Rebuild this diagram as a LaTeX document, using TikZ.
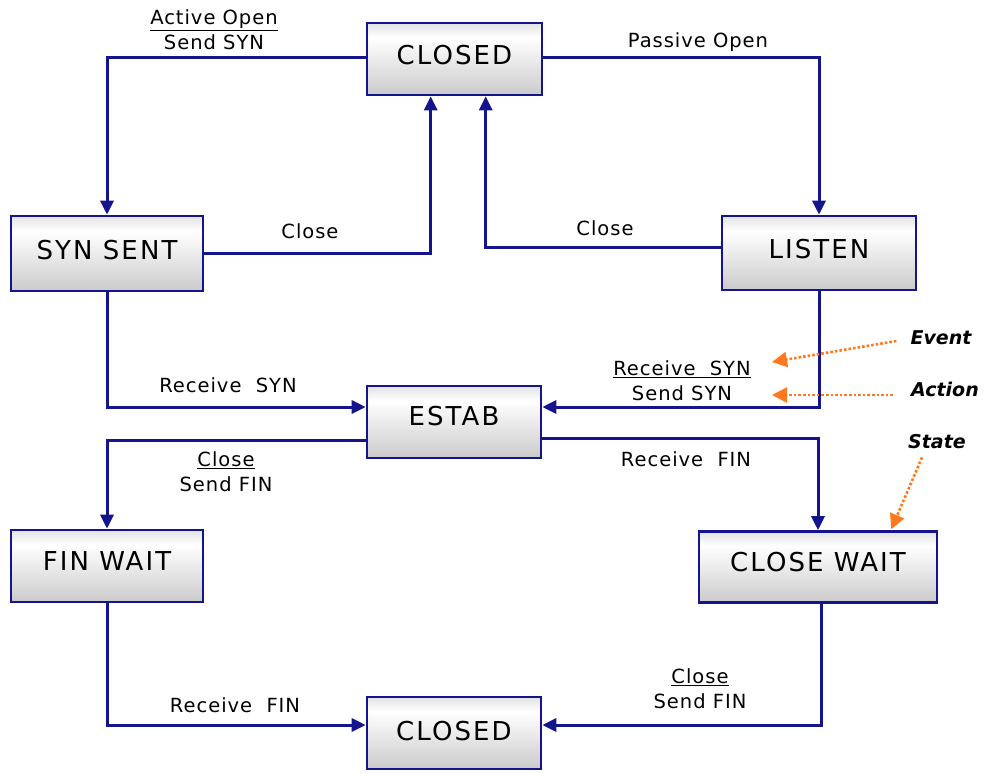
\documentclass[tikz,border=0pt]{standalone}
\usepackage{fontspec}
\setmainfont{DejaVu Sans}
\newfontfamily\boxfont[LetterSpace=8]{DejaVu Sans}
\newfontfamily\lblfont[LetterSpace=5]{DejaVu Sans}
\usetikzlibrary{arrows.meta,calc}
\definecolor{navy}{RGB}{20,20,140}
\definecolor{boxgray}{RGB}{165,165,165}
\definecolor{orng}{RGB}{255,120,30}
\pgfdeclareverticalshading{boxshade}{100bp}{color(0bp)=(boxgray); color(10bp)=(boxgray!80); color(65bp)=(white); color(90bp)=(boxgray!80); color(100bp)=(boxgray)}
\begin{document}
\begin{tikzpicture}[x=1pt,y=-1pt,
  statebox/.style={draw=navy, line width=2.6pt, shading=boxshade, inner sep=0pt},
  stxt/.style={font=\boxfont\fontsize{26}{30}\selectfont},
  conn/.style={draw=navy, line width=3pt, -{Triangle[length=14pt,width=13pt]}},
  lbl/.style={font=\lblfont\fontsize{19.5}{25}\selectfont, align=center, inner sep=0pt},
  keylbl/.style={font=\bfseries\itshape\fontsize{19}{22}\selectfont, inner sep=0pt},
  hint/.style={draw=orng, line width=2.6pt, dotted, -{Triangle[length=15pt,width=15pt]}}]
\useasboundingbox (0,0) rectangle (986,774);

% states
\node[statebox, minimum width=175pt, minimum height=72pt, label={[stxt,yshift=4pt]center:CLOSED}] (closedT) at (454.5,59) {};
\node[statebox, minimum width=192pt, minimum height=75pt, label={[stxt,yshift=3pt]center:SYN SENT}] (synsent) at (107,253.5) {};
\node[statebox, minimum width=194pt, minimum height=74pt, label={[stxt,yshift=4pt]center:LISTEN}] (listen) at (819,253) {};
\node[statebox, minimum width=174pt, minimum height=72pt, label={[stxt,yshift=6pt]center:ESTAB}] (estab) at (454,422) {};
\node[statebox, minimum width=192pt, minimum height=72pt, label={[stxt,yshift=5pt]center:FIN WAIT}] (finwait) at (107,566) {};
\node[statebox, minimum width=238pt, minimum height=71pt, label={[stxt,yshift=5pt]center:CLOSE WAIT}] (closewait) at (818,567) {};
\node[statebox, minimum width=174pt, minimum height=72pt, label={[stxt,yshift=2pt]center:CLOSED}] (closedB) at (454,733) {};

% connectors
\draw[conn] ([yshift=2pt]closedT.west) -| (synsent.north);
\draw[conn] ([yshift=2pt]closedT.east) -| (listen.north);
\draw[conn] (synsent.east) -| ([xshift=65pt]closedT.south west);
\draw[conn] ([yshift=6pt]listen.west) -| ([xshift=120pt]closedT.south west);
\draw[conn] (synsent.south) |- ([yshift=15pt]estab.west);
\draw[conn] (listen.south) |- ([yshift=15pt]estab.east);
\draw[conn] ([yshift=-18pt]estab.west) -| (finwait.north);
\draw[conn] ([yshift=-16pt]estab.east) -| (closewait.north);
\draw[conn] (finwait.south) |- ([yshift=8pt]closedB.west);
\draw[conn] ([xshift=3pt]closewait.south) |- ([yshift=8pt]closedB.east);

% labels
\node[lbl] (lAO) at (214,30) {\underline{Active Open}\\Send SYN};
\node[lbl] (lPO) at (698,42) {Passive Open};
\node[lbl] (lC1) at (310,231) {Close};
\node[lbl] (lC2) at (605,228) {Close};
\node[lbl] (lRS1) at (228,385) {Receive\ \ SYN};
\node[lbl] (lRS2) at (682,381) {\underline{Receive\ \ SYN}\\Send SYN};
\node[lbl] (lCF1) at (226,472) {\underline{Close}\\Send FIN};
\node[lbl] (lRF1) at (686,459) {Receive\ \ FIN};
\node[lbl] (lRF2) at (235,705) {Receive\ \ FIN};
\node[lbl] (lCF2) at (700,689) {\underline{Close}\\Send FIN};

% legend
\node[keylbl] (evt) at (941,338) {Event};
\node[keylbl] (act) at (945,389) {Action};
\node[keylbl] (stt) at (937,442) {State};
\coordinate (evtTip) at (772,362);
\coordinate (actTip) at (772,395);
\draw[hint] ([xshift=-14pt,yshift=-3pt]evt.west) -- (evtTip);
\draw[hint] ([xshift=-18pt,yshift=-6pt]act.west) -- (actTip);
\draw[hint] ([xshift=-15pt,yshift=-8pt]stt.south) -- ([xshift=-47pt,yshift=1pt]closewait.north east);
\end{tikzpicture}
\end{document}
